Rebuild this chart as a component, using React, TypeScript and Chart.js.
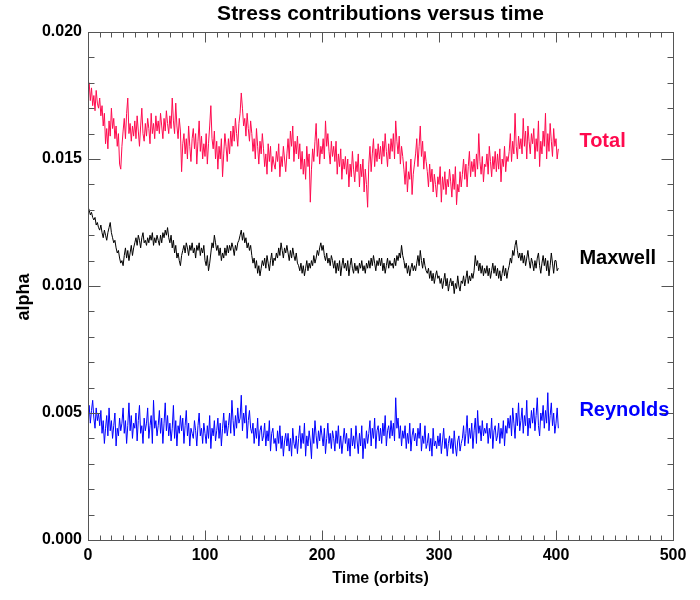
import React, { useEffect, useRef } from "react";
import { Chart, registerables } from "chart.js";

Chart.register(...registerables);

// ---- data: alpha values read every TIME_STEP orbit, starting at t = 0 ----
const TIME_STEP = 1;

const total: number[] = [
  0.0176, 0.0180, 0.0173, 0.0178, 0.0171, 0.0175, 0.0169, 0.0177, 0.0172, 0.0170,
  0.0174, 0.0167, 0.0171, 0.0163, 0.0168, 0.0156, 0.0162, 0.0154, 0.0165, 0.0159,
  0.0170, 0.0162, 0.0166, 0.0158, 0.0163, 0.0155, 0.0160, 0.0148, 0.0146, 0.0155,
  0.0161, 0.0166, 0.0158, 0.0168, 0.0174, 0.0160, 0.0164, 0.0157, 0.0163, 0.0159,
  0.0165, 0.0158, 0.0167, 0.0161, 0.0155, 0.0163, 0.0170, 0.0160, 0.0157, 0.0164,
  0.0159, 0.0166, 0.0162, 0.0156, 0.0168, 0.0160, 0.0164, 0.0158, 0.0167, 0.0161,
  0.0165, 0.0160, 0.0168, 0.0163, 0.0158, 0.0166, 0.0161, 0.0169, 0.0164, 0.0160,
  0.0167, 0.0162, 0.0174, 0.0165, 0.0160, 0.0172, 0.0163, 0.0158, 0.0166, 0.0161,
  0.0145, 0.0156, 0.0160, 0.0152, 0.0158, 0.0150, 0.0163, 0.0155, 0.0149, 0.0158,
  0.0162, 0.0154, 0.0160, 0.0148, 0.0157, 0.0165, 0.0153, 0.0159, 0.0150, 0.0156,
  0.0151, 0.0160, 0.0148, 0.0156, 0.0163, 0.0171, 0.0158, 0.0154, 0.0161, 0.0150,
  0.0157, 0.0146, 0.0155, 0.0150, 0.0158, 0.0143, 0.0152, 0.0160, 0.0155, 0.0149,
  0.0158, 0.0152, 0.0161, 0.0155, 0.0163, 0.0157, 0.0166, 0.0160, 0.0155, 0.0164,
  0.0168, 0.0176, 0.0170, 0.0163, 0.0166, 0.0159, 0.0168, 0.0162, 0.0157, 0.0165,
  0.0160, 0.0153, 0.0158, 0.0150, 0.0162, 0.0155, 0.0148, 0.0157, 0.0152, 0.0160,
  0.0154, 0.0147, 0.0152, 0.0144, 0.0156, 0.0149, 0.0155, 0.0145, 0.0151, 0.0148,
  0.0146, 0.0153, 0.0149, 0.0156, 0.0143, 0.0151, 0.0147, 0.0155, 0.0150, 0.0145,
  0.0152, 0.0158, 0.0150, 0.0161, 0.0155, 0.0163, 0.0149, 0.0157, 0.0152, 0.0159,
  0.0150, 0.0156, 0.0146, 0.0153, 0.0144, 0.0150, 0.0142, 0.0155, 0.0147, 0.0152,
  0.0133, 0.0146, 0.0154, 0.0149, 0.0157, 0.0164, 0.0151, 0.0158, 0.0148, 0.0155,
  0.0152, 0.0158, 0.0150, 0.0165, 0.0155, 0.0160, 0.0153, 0.0148, 0.0157, 0.0151,
  0.0155, 0.0149, 0.0157, 0.0144, 0.0152, 0.0147, 0.0154, 0.0142, 0.0150, 0.0146,
  0.0151, 0.0144, 0.0150, 0.0139, 0.0148, 0.0143, 0.0153, 0.0146, 0.0141, 0.0149,
  0.0145, 0.0152, 0.0139, 0.0148, 0.0143, 0.0150, 0.0137, 0.0146, 0.0140, 0.0131,
  0.0148, 0.0155, 0.0145, 0.0152, 0.0158, 0.0147, 0.0154, 0.0149, 0.0156, 0.0150,
  0.0155, 0.0148, 0.0157, 0.0151, 0.0160, 0.0153, 0.0147, 0.0156, 0.0150, 0.0158,
  0.0153, 0.0160, 0.0150, 0.0165, 0.0157, 0.0152, 0.0159, 0.0148, 0.0155, 0.0151,
  0.0146, 0.0140, 0.0149, 0.0137, 0.0145, 0.0142, 0.0150, 0.0136, 0.0144, 0.0148,
  0.0152, 0.0158, 0.0147, 0.0155, 0.0163, 0.0151, 0.0157, 0.0146, 0.0153, 0.0149,
  0.0145, 0.0139, 0.0148, 0.0141, 0.0146, 0.0137, 0.0144, 0.0140, 0.0135, 0.0143,
  0.0140, 0.0147, 0.0133, 0.0143, 0.0138, 0.0145, 0.0136, 0.0142, 0.0139, 0.0146,
  0.0141, 0.0135, 0.0144, 0.0138, 0.0147, 0.0132, 0.0140, 0.0137, 0.0145, 0.0139,
  0.0144, 0.0150, 0.0142, 0.0148, 0.0139, 0.0147, 0.0153, 0.0143, 0.0149, 0.0145,
  0.0150, 0.0143, 0.0152, 0.0146, 0.0160, 0.0149, 0.0144, 0.0151, 0.0141, 0.0148,
  0.0147, 0.0152, 0.0144, 0.0155, 0.0149, 0.0143, 0.0151, 0.0146, 0.0153, 0.0145,
  0.0152, 0.0146, 0.0154, 0.0141, 0.0150, 0.0147, 0.0155, 0.0145, 0.0151, 0.0149,
  0.0153, 0.0160, 0.0149, 0.0157, 0.0152, 0.0168, 0.0155, 0.0150, 0.0159, 0.0154,
  0.0158, 0.0152, 0.0166, 0.0155, 0.0161, 0.0150, 0.0163, 0.0157, 0.0152, 0.0160,
  0.0156, 0.0162, 0.0150, 0.0158, 0.0153, 0.0165, 0.0147, 0.0157, 0.0152, 0.0161,
  0.0155, 0.0168, 0.0150, 0.0160, 0.0153, 0.0164, 0.0157, 0.0151, 0.0162, 0.0155,
  0.0158, 0.0150, 0.0154,
];

const maxwell: number[] = [
  0.0131, 0.0130, 0.0128, 0.0129, 0.0127, 0.0126, 0.0127, 0.0124, 0.0125, 0.0123,
  0.0122, 0.0124, 0.0121, 0.0119, 0.0122, 0.0120, 0.0118, 0.0121, 0.0123, 0.0125,
  0.0121, 0.0119, 0.0117, 0.0118, 0.0115, 0.0113, 0.0114, 0.0111, 0.0109, 0.0110,
  0.0108, 0.0112, 0.0115, 0.0111, 0.0114, 0.0110, 0.0113, 0.0116, 0.0112, 0.0115,
  0.0117, 0.0119, 0.0116, 0.0120, 0.0118, 0.0115, 0.0119, 0.0121, 0.0117, 0.0118,
  0.0116, 0.0119, 0.0117, 0.0120, 0.0118, 0.0121, 0.0116, 0.0119, 0.0117, 0.0120,
  0.0118, 0.0116, 0.0120, 0.0117, 0.0121, 0.0119, 0.0122, 0.0120, 0.0123, 0.0119,
  0.0117, 0.0120, 0.0115, 0.0118, 0.0113, 0.0116, 0.0111, 0.0113, 0.0110, 0.0108,
  0.0112, 0.0114, 0.0116, 0.0113, 0.0117, 0.0115, 0.0112, 0.0116, 0.0114, 0.0117,
  0.0113, 0.0115, 0.0111, 0.0116, 0.0114, 0.0117, 0.0112, 0.0115, 0.0113, 0.0116,
  0.0110, 0.0108, 0.0112, 0.0106, 0.0109, 0.0113, 0.0117, 0.0115, 0.0120, 0.0117,
  0.0114, 0.0116, 0.0112, 0.0115, 0.0110, 0.0113, 0.0111, 0.0115, 0.0112, 0.0116,
  0.0113, 0.0116, 0.0114, 0.0117, 0.0115, 0.0112, 0.0116, 0.0114, 0.0117, 0.0118,
  0.0120, 0.0122, 0.0118, 0.0121, 0.0117, 0.0119, 0.0115, 0.0117, 0.0114, 0.0116,
  0.0112, 0.0109, 0.0111, 0.0107, 0.0110, 0.0105, 0.0108, 0.0104, 0.0107, 0.0110,
  0.0108, 0.0111, 0.0107, 0.0112, 0.0109, 0.0106, 0.0110, 0.0113, 0.0108, 0.0111,
  0.0110, 0.0113, 0.0111, 0.0115, 0.0112, 0.0117, 0.0114, 0.0111, 0.0115, 0.0113,
  0.0116, 0.0113, 0.0110, 0.0114, 0.0111, 0.0115, 0.0112, 0.0110, 0.0113, 0.0109,
  0.0108, 0.0106, 0.0109, 0.0105, 0.0108, 0.0104, 0.0107, 0.0110, 0.0106, 0.0109,
  0.0107, 0.0110, 0.0108, 0.0112, 0.0109, 0.0111, 0.0114, 0.0112, 0.0115, 0.0117,
  0.0114, 0.0116, 0.0112, 0.0110, 0.0113, 0.0109, 0.0111, 0.0108, 0.0112, 0.0110,
  0.0107, 0.0110, 0.0105, 0.0109, 0.0106, 0.0110, 0.0104, 0.0108, 0.0111, 0.0107,
  0.0109, 0.0106, 0.0110, 0.0104, 0.0108, 0.0111, 0.0107, 0.0105, 0.0109, 0.0106,
  0.0108, 0.0105, 0.0109, 0.0107, 0.0110, 0.0106, 0.0108, 0.0105, 0.0109, 0.0107,
  0.0110, 0.0107, 0.0111, 0.0108, 0.0112, 0.0109, 0.0106, 0.0110, 0.0108, 0.0111,
  0.0108, 0.0111, 0.0106, 0.0109, 0.0105, 0.0108, 0.0111, 0.0107, 0.0110, 0.0108,
  0.0109, 0.0107, 0.0111, 0.0108, 0.0112, 0.0110, 0.0113, 0.0111, 0.0116, 0.0112,
  0.0110, 0.0107, 0.0109, 0.0105, 0.0108, 0.0104, 0.0107, 0.0109, 0.0106, 0.0108,
  0.0106, 0.0109, 0.0112, 0.0108, 0.0114, 0.0110, 0.0107, 0.0111, 0.0108, 0.0106,
  0.0105, 0.0107, 0.0103, 0.0106, 0.0102, 0.0105, 0.0101, 0.0104, 0.0106, 0.0103,
  0.0104, 0.0101, 0.0103, 0.0099, 0.0102, 0.0105, 0.0100, 0.0103, 0.0098, 0.0101,
  0.0103, 0.0100, 0.0102, 0.0097, 0.0101, 0.0099, 0.0104, 0.0100, 0.0098, 0.0102,
  0.0101, 0.0104, 0.0100, 0.0103, 0.0106, 0.0101, 0.0104, 0.0102, 0.0105, 0.0103,
  0.0106, 0.0112, 0.0108, 0.0110, 0.0106, 0.0109, 0.0105, 0.0108, 0.0104, 0.0107,
  0.0105, 0.0108, 0.0104, 0.0107, 0.0103, 0.0106, 0.0109, 0.0105, 0.0108, 0.0104,
  0.0107, 0.0103, 0.0106, 0.0102, 0.0105, 0.0108, 0.0104, 0.0107, 0.0103, 0.0106,
  0.0108, 0.0111, 0.0109, 0.0114, 0.0112, 0.0116, 0.0118, 0.0114, 0.0111, 0.0113,
  0.0110, 0.0113, 0.0109, 0.0112, 0.0108, 0.0111, 0.0114, 0.0110, 0.0107, 0.0111,
  0.0109, 0.0106, 0.0110, 0.0107, 0.0111, 0.0113, 0.0108, 0.0105, 0.0109, 0.0112,
  0.0108, 0.0111, 0.0106, 0.0110, 0.0104, 0.0108, 0.0113, 0.0109, 0.0105, 0.0110,
  0.0110, 0.0106, 0.0107,
];

const reynolds: number[] = [
  0.0049, 0.0053, 0.0046, 0.0051, 0.0055, 0.0048, 0.0044, 0.0052, 0.0047, 0.0050,
  0.0045, 0.0051, 0.0042, 0.0047, 0.0038, 0.0044, 0.0049, 0.0041, 0.0052, 0.0043,
  0.0047, 0.0040, 0.0045, 0.0050, 0.0037, 0.0044, 0.0041, 0.0048, 0.0043, 0.0046,
  0.0052, 0.0042, 0.0047, 0.0038, 0.0045, 0.0054, 0.0043, 0.0049, 0.0040, 0.0046,
  0.0044, 0.0050, 0.0039, 0.0047, 0.0053, 0.0042, 0.0045, 0.0038, 0.0048, 0.0043,
  0.0046, 0.0052, 0.0040, 0.0045, 0.0049, 0.0038, 0.0055, 0.0044, 0.0047, 0.0041,
  0.0045, 0.0051, 0.0042, 0.0048, 0.0038, 0.0046, 0.0054, 0.0043, 0.0049, 0.0041,
  0.0046, 0.0039, 0.0044, 0.0053, 0.0040, 0.0047, 0.0037, 0.0045, 0.0042, 0.0049,
  0.0043, 0.0048, 0.0038, 0.0045, 0.0051, 0.0041, 0.0046, 0.0037, 0.0044, 0.0042,
  0.0040, 0.0047, 0.0043, 0.0037, 0.0045, 0.0050, 0.0041, 0.0044, 0.0038, 0.0046,
  0.0042, 0.0038, 0.0045, 0.0040, 0.0049, 0.0036, 0.0044, 0.0041, 0.0047, 0.0039,
  0.0043, 0.0048, 0.0040, 0.0046, 0.0037, 0.0044, 0.0050, 0.0042, 0.0047, 0.0041,
  0.0045, 0.0050, 0.0042, 0.0055, 0.0047, 0.0041, 0.0049, 0.0044, 0.0052, 0.0046,
  0.0048, 0.0057, 0.0043, 0.0050, 0.0046, 0.0053, 0.0040, 0.0047, 0.0051, 0.0044,
  0.0042, 0.0046, 0.0038, 0.0044, 0.0040, 0.0048, 0.0037, 0.0043, 0.0045, 0.0039,
  0.0041, 0.0046, 0.0037, 0.0043, 0.0039, 0.0047, 0.0035, 0.0042, 0.0044, 0.0038,
  0.0040, 0.0035, 0.0043, 0.0038, 0.0045, 0.0036, 0.0041, 0.0033, 0.0039, 0.0042,
  0.0037, 0.0042, 0.0035, 0.0040, 0.0033, 0.0044, 0.0038, 0.0036, 0.0041, 0.0034,
  0.0040, 0.0045, 0.0036, 0.0042, 0.0038, 0.0046, 0.0033, 0.0041, 0.0037, 0.0043,
  0.0039, 0.0032, 0.0044, 0.0038, 0.0047, 0.0041, 0.0036, 0.0043, 0.0039, 0.0045,
  0.0041, 0.0037, 0.0044, 0.0034, 0.0040, 0.0046, 0.0038, 0.0042, 0.0036, 0.0043,
  0.0040, 0.0035, 0.0043, 0.0038, 0.0045, 0.0036, 0.0041, 0.0034, 0.0039, 0.0044,
  0.0038, 0.0042, 0.0035, 0.0040, 0.0033, 0.0044, 0.0037, 0.0041, 0.0036, 0.0045,
  0.0039, 0.0034, 0.0042, 0.0037, 0.0045, 0.0032, 0.0040, 0.0036, 0.0043, 0.0038,
  0.0042, 0.0047, 0.0037, 0.0044, 0.0040, 0.0048, 0.0036, 0.0043, 0.0045, 0.0039,
  0.0044, 0.0038, 0.0046, 0.0041, 0.0049, 0.0037, 0.0043, 0.0045, 0.0040, 0.0047,
  0.0041, 0.0046, 0.0039, 0.0056, 0.0044, 0.0048, 0.0040, 0.0045, 0.0037, 0.0043,
  0.0040, 0.0045, 0.0036, 0.0042, 0.0038, 0.0046, 0.0035, 0.0041, 0.0044, 0.0039,
  0.0042, 0.0037, 0.0044, 0.0040, 0.0046, 0.0035, 0.0041, 0.0038, 0.0045, 0.0036,
  0.0038, 0.0042, 0.0035, 0.0040, 0.0033, 0.0044, 0.0037, 0.0039, 0.0036, 0.0041,
  0.0037, 0.0042, 0.0034, 0.0039, 0.0044, 0.0036, 0.0040, 0.0033, 0.0038, 0.0041,
  0.0036, 0.0040, 0.0034, 0.0043, 0.0037, 0.0033, 0.0039, 0.0041, 0.0035, 0.0038,
  0.0040, 0.0045, 0.0037, 0.0042, 0.0049, 0.0038, 0.0044, 0.0040, 0.0046, 0.0036,
  0.0043, 0.0048, 0.0038, 0.0051, 0.0042, 0.0045, 0.0039, 0.0047, 0.0041, 0.0044,
  0.0042, 0.0046, 0.0038, 0.0044, 0.0040, 0.0048, 0.0036, 0.0043, 0.0045, 0.0039,
  0.0041, 0.0046, 0.0038, 0.0044, 0.0040, 0.0047, 0.0037, 0.0045, 0.0042, 0.0048,
  0.0044, 0.0049, 0.0041, 0.0052, 0.0046, 0.0040, 0.0050, 0.0045, 0.0054, 0.0043,
  0.0047, 0.0052, 0.0042, 0.0049, 0.0045, 0.0055, 0.0041, 0.0048, 0.0044, 0.0051,
  0.0046, 0.0052, 0.0043, 0.0049, 0.0056, 0.0045, 0.0041, 0.0050, 0.0047, 0.0053,
  0.0044, 0.0051, 0.0046, 0.0058, 0.0043, 0.0049, 0.0054, 0.0045, 0.0050, 0.0042,
  0.0046, 0.0052, 0.0044,
];

const seriesNames = ["Total", "Maxwell", "Reynolds"];
const seriesColors = ["#ff0a4e", "#000000", "#0000ff"];
const labelTime = [420, 420, 420];
const labelAlpha = [0.0157, 0.0111, 0.0051];

const xTicks = [0, 100, 200, 300, 400, 500];
const yTicks = [0, 0.005, 0.01, 0.015, 0.02];
const X_MINOR = 10;
const Y_MINOR = 0.001;

const TITLE = "Stress contributions versus time";
const X_TITLE = "Time (orbits)";
const Y_TITLE = "alpha";
const FONT = '"Liberation Sans", Arial, Helvetica, sans-serif';
const AXIS_COLOR = "#555555";

const idlFrame = {
  id: "idlFrame",
  afterDraw(chart: any) {
    const { ctx, chartArea: a, scales } = chart;
    const xs = scales.x;
    const ys = scales.y;
    const L = Math.round(a.left) + 0.5;
    const R = Math.round(a.right) + 0.5;
    const T = Math.round(a.top) + 0.5;
    const B = Math.round(a.bottom) + 0.5;
    ctx.save();
    ctx.strokeStyle = AXIS_COLOR;
    ctx.lineWidth = 1;
    ctx.strokeRect(L, T, R - L, B - T);
    ctx.beginPath();
    const xMax = xTicks[xTicks.length - 1];
    for (let k = 0; k * X_MINOR <= xMax + 1e-9; k++) {
      const v = k * X_MINOR;
      const len = k % 10 === 0 ? 10 : 5;
      const px = Math.round(xs.getPixelForValue(v)) + 0.5;
      ctx.moveTo(px, B);
      ctx.lineTo(px, B - len);
      ctx.moveTo(px, T);
      ctx.lineTo(px, T + len);
    }
    const yMax = yTicks[yTicks.length - 1];
    for (let k = 0; k * Y_MINOR <= yMax + 1e-9; k++) {
      const v = k * Y_MINOR;
      const len = k % 5 === 0 ? 12 : 6;
      const py = Math.round(ys.getPixelForValue(v)) + 0.5;
      ctx.moveTo(L, py);
      ctx.lineTo(L + len, py);
      ctx.moveTo(R, py);
      ctx.lineTo(R - len, py);
    }
    ctx.stroke();

    // title
    ctx.fillStyle = "#000";
    ctx.font = `bold 21px ${FONT}`;
    ctx.textAlign = "center";
    ctx.textBaseline = "middle";
    ctx.fillText(TITLE, (a.left + a.right) / 2, 14);

    // y-axis title
    ctx.save();
    ctx.font = `bold 18px ${FONT}`;
    ctx.translate(24, (a.top + a.bottom) / 2 + 11);
    ctx.rotate(-Math.PI / 2);
    ctx.fillText(Y_TITLE, 0, 0);
    ctx.restore();

    // series labels
    ctx.font = `bold 20px ${FONT}`;
    ctx.textAlign = "left";
    seriesNames.forEach((name, i) => {
      ctx.fillStyle = seriesColors[i];
      ctx.fillText(name, xs.getPixelForValue(labelTime[i]), ys.getPixelForValue(labelAlpha[i]));
    });
    ctx.restore();
  },
};

export default function App() {
  const ref = useRef<HTMLCanvasElement | null>(null);

  useEffect(() => {
    if (!ref.current) return;
    const series = [total, maxwell, reynolds];
    const chart = new Chart(ref.current, {
      type: "line",
      data: {
        datasets: series.map((vals, si) => ({
          label: seriesNames[si],
          data: vals.map((v, i) => ({ x: i * TIME_STEP, y: v })),
          borderColor: seriesColors[si],
          borderWidth: 1,
          pointRadius: 0,
          fill: false,
          tension: 0,
        })),
      },
      options: {
        responsive: false,
        animation: false,
        devicePixelRatio: 1,
        layout: { padding: { top: 32, right: 27, left: 0, bottom: 0 } },
        plugins: {
          legend: { display: false },
          title: { display: false },
          tooltip: { enabled: false },
        },
        scales: {
          x: {
            type: "linear",
            min: xTicks[0],
            max: xTicks[xTicks.length - 1],
            afterFit(s: any) {
              s.height = 60;
            },
            afterBuildTicks(s: any) {
              s.ticks = xTicks.map((v) => ({ value: v }));
            },
            ticks: {
              font: { family: FONT, size: 16, weight: "bold" },
              color: "#000",
              padding: 6,
              maxRotation: 0,
              autoSkip: false,
              callback: (v: any) => String(v),
            },
            grid: { display: false, drawTicks: false },
            border: { display: false },
            title: {
              display: true,
              text: X_TITLE,
              color: "#000",
              font: { family: FONT, size: 16, weight: "bold" },
              padding: { top: 0, bottom: 12 },
            },
          },
          y: {
            type: "linear",
            min: yTicks[0],
            max: yTicks[yTicks.length - 1],
            afterFit(s: any) {
              s.width = 88;
            },
            afterBuildTicks(s: any) {
              s.ticks = yTicks.map((v) => ({ value: v }));
            },
            ticks: {
              font: { family: FONT, size: 16, weight: "bold" },
              color: "#000",
              padding: 6,
              autoSkip: false,
              callback: (v: any) => Number(v).toFixed(3),
            },
            grid: { display: false, drawTicks: false },
            border: { display: false },
          },
        },
      } as any,
      plugins: [idlFrame],
    });
    return () => chart.destroy();
  }, []);

  return (
    <div style={{ position: "absolute", left: 0, top: 0, width: 700, height: 600, background: "#fff" }}>
      <canvas ref={ref} width={700} height={600} style={{ display: "block" }} />
    </div>
  );
}
